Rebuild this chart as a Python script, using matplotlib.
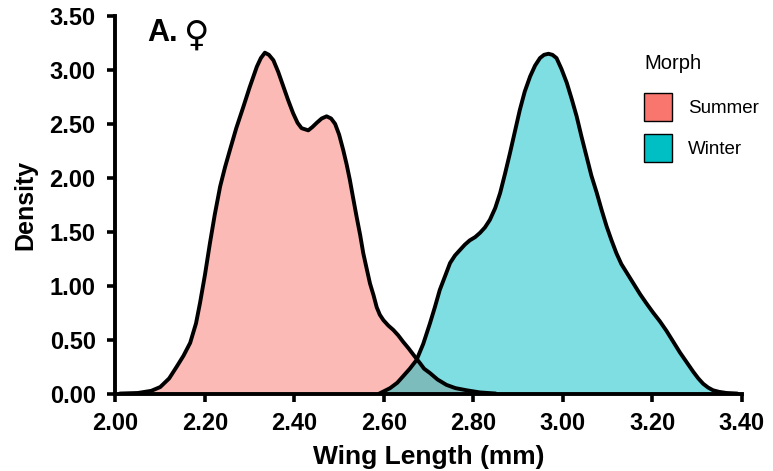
import numpy as np
import matplotlib
matplotlib.use('Agg')
import matplotlib.pyplot as plt
from matplotlib.patches import Patch

plt.rcParams['font.family'] = ['Liberation Sans', 'DejaVu Sans']

# density curves
summer_x = [2.01, 2.05, 2.08, 2.10, 2.12, 2.137, 2.152, 2.167, 2.18, 2.189, 2.20, 2.211,
            2.222, 2.234, 2.245, 2.256, 2.27, 2.286, 2.30, 2.316, 2.325, 2.334, 2.343,
            2.353, 2.364, 2.375, 2.386, 2.397, 2.407, 2.416, 2.431, 2.44, 2.45, 2.461,
            2.472, 2.482, 2.491, 2.50, 2.509, 2.517, 2.524, 2.531, 2.539, 2.547, 2.554,
            2.562, 2.569, 2.577, 2.584, 2.591, 2.599, 2.61, 2.621, 2.632, 2.643, 2.655,
            2.666, 2.681, 2.69, 2.703, 2.72, 2.74, 2.76, 2.785, 2.815, 2.85]
summer_y = [0.0, 0.005, 0.025, 0.06, 0.14, 0.25, 0.35, 0.47, 0.65, 0.84, 1.10, 1.39,
            1.66, 1.92, 2.10, 2.26, 2.46, 2.66, 2.84, 3.03, 3.11, 3.16, 3.14,
            3.09, 2.98, 2.85, 2.72, 2.60, 2.51, 2.46, 2.44, 2.47, 2.51, 2.55,
            2.57, 2.55, 2.50, 2.40, 2.26, 2.12, 1.98, 1.82, 1.64, 1.47, 1.30,
            1.15, 1.02, 0.91, 0.80, 0.73, 0.68, 0.63, 0.59, 0.54, 0.48, 0.42,
            0.36, 0.28, 0.23, 0.19, 0.13, 0.08, 0.05, 0.03, 0.01, 0.0]

winter_x = [2.59, 2.614, 2.63, 2.643, 2.658, 2.673, 2.688, 2.703, 2.714, 2.725, 2.737,
            2.748, 2.759, 2.77, 2.781, 2.792, 2.804, 2.815, 2.826, 2.837, 2.849, 2.86,
            2.871, 2.882, 2.893, 2.904, 2.915, 2.927, 2.938, 2.949, 2.958, 2.968, 2.977,
            2.986, 2.997, 3.009, 3.02, 3.031, 3.042, 3.053, 3.064, 3.076, 3.087, 3.098,
            3.109, 3.12, 3.131, 3.143, 3.158, 3.173, 3.188, 3.202, 3.217, 3.232, 3.247,
            3.262, 3.277, 3.292, 3.303, 3.314, 3.325, 3.336, 3.35, 3.366, 3.39]
winter_y = [0.0, 0.05, 0.10, 0.16, 0.23, 0.31, 0.46, 0.65, 0.80, 0.96, 1.09,
            1.21, 1.28, 1.33, 1.38, 1.42, 1.45, 1.49, 1.54, 1.61, 1.72, 1.86,
            2.04, 2.23, 2.43, 2.63, 2.80, 2.94, 3.04, 3.11, 3.14, 3.15, 3.14,
            3.11, 3.01, 2.88, 2.73, 2.57, 2.38, 2.20, 2.02, 1.86, 1.70, 1.55,
            1.42, 1.30, 1.20, 1.12, 1.02, 0.92, 0.83, 0.75, 0.67, 0.58, 0.48,
            0.38, 0.29, 0.20, 0.14, 0.09, 0.055, 0.03, 0.015, 0.005, 0.0]

morphs = ['Summer', 'Winter']
colors = ['#F8766D', '#00BFC4']
x_ticks = [2.0, 2.2, 2.4, 2.6, 2.8, 3.0, 3.2, 3.4]
y_ticks = [0.0, 0.5, 1.0, 1.5, 2.0, 2.5, 3.0, 3.5]

fig = plt.figure(figsize=(7.73, 4.71), dpi=100)
ax = fig.add_axes([0.1494, 0.1645, 0.8101, 0.8015])

for xs, ys, c in [(summer_x, summer_y, colors[0]), (winter_x, winter_y, colors[1])]:
    ax.fill_between(xs, ys, 0, color=c, alpha=0.5, lw=0)
    ax.plot(xs, ys, color='k', lw=2.8, solid_capstyle='round', solid_joinstyle='round')

ax.set_xlim(2.0, 3.4)
ax.set_ylim(0, 3.5)
ax.set_xticks(x_ticks)
ax.set_yticks(y_ticks)
ax.set_xticklabels(['%.2f' % v for v in x_ticks])
ax.set_yticklabels(['%.2f' % v for v in y_ticks])
for s in ['top', 'right']:
    ax.spines[s].set_visible(False)
for s in ['left', 'bottom']:
    ax.spines[s].set_linewidth(2.8)
ax.tick_params(length=5.8, width=2.6, labelsize=17)
ax.tick_params(axis='x', pad=7.5)
ax.tick_params(axis='y', pad=8.5)
for lab in ax.get_xticklabels() + ax.get_yticklabels():
    lab.set_fontweight('bold')

ax.set_xlabel('Wing Length (mm)', fontsize=19, fontweight='bold', labelpad=7)
ax.set_ylabel('Density', fontsize=18, fontweight='bold', labelpad=9)

ax.text(2.07, 3.264, 'A.', fontsize=22, fontweight='bold', va='baseline')
ax.text(2.150, 3.227, '\u2640', fontsize=25, family='DejaVu Sans', va='baseline')

handles = [Patch(facecolor=c, edgecolor='k', lw=1) for c in colors]
leg = ax.legend(handles, morphs, title='Morph', loc='upper left',
                bbox_to_anchor=(0.844, 0.899), frameon=False, fontsize=13.5,
                title_fontsize=14.5, handlelength=1.49, handleheight=1.94,
                labelspacing=0.7, handletextpad=0.85, borderaxespad=0, borderpad=0)
leg._legend_box.align = 'left'
leg._legend_box.sep = 14  # a bit more room under the title

fig.savefig('out.png', dpi=100)
